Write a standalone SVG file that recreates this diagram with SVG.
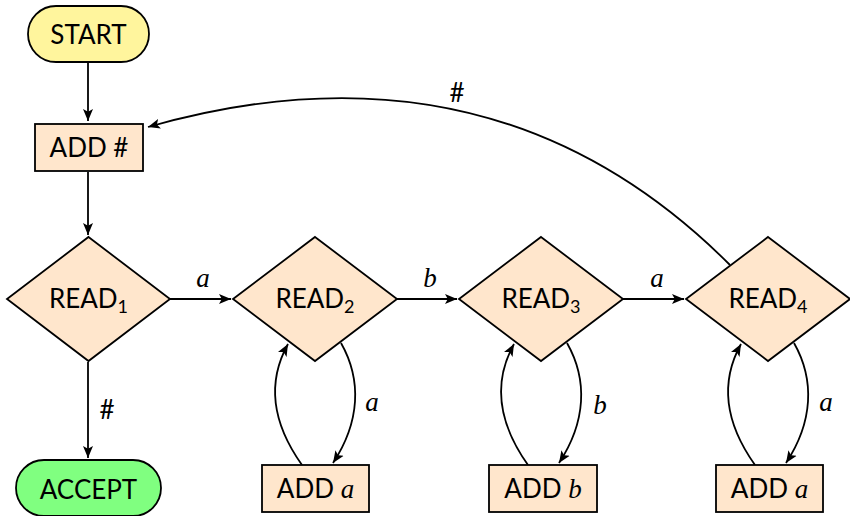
<svg xmlns="http://www.w3.org/2000/svg" width="850" height="516" viewBox="0 0 850 516">
<defs>
<style>
.n{stroke:#000;stroke-width:1.8}
.p{fill:#ffe6cc}
.t{font-family:Lato,"Open Sans",sans-serif;font-size:26px;fill:#000;text-anchor:middle}
.v{font-family:"Liberation Serif",serif;font-style:italic;font-size:27px}
.s{font-size:18px}
.c{fill:none;stroke:#000;stroke-width:1.8}
</style>
<marker id="ah" markerWidth="13" markerHeight="11" refX="12" refY="5.5" orient="auto" markerUnits="userSpaceOnUse">
<path d="M0,0.5 L12,5.5 L0,10.5 L2.8,5.5 Z" fill="#000"/>
</marker>
</defs>
<g id="connectors">
<path class="c" d="M88,62 L88,121" marker-end="url(#ah)"/>
<path class="c" d="M88,172 L88,235" marker-end="url(#ah)"/>
<path class="c" d="M88,362 L88,458" marker-end="url(#ah)"/>
<text class="t" x="107" y="419">#</text>
<path class="c" d="M170,299 L231,299" marker-end="url(#ah)"/>
<text class="t v" x="203" y="287">a</text>
<path class="c" d="M397,299 L457,299" marker-end="url(#ah)"/>
<text class="t v" x="430" y="287">b</text>
<path class="c" d="M623,299 L684,299" marker-end="url(#ah)"/>
<text class="t v" x="657" y="287">a</text>
<path class="c" d="M730,265 C580,115 390,58 148,127" marker-end="url(#ah)"/>
<text class="t" x="457" y="102">#</text>
<path class="c" d="M302,465 C270,420 268,380 288,344" marker-end="url(#ah)"/>
<path class="c" d="M341,343 C362,380 360,422 333,463" marker-end="url(#ah)"/>
<text class="t v" x="372" y="411">a</text>
<path class="c" d="M528,465 C496,420 494,380 514,344" marker-end="url(#ah)"/>
<path class="c" d="M567,343 C588,380 586,422 559,463" marker-end="url(#ah)"/>
<text class="t v" x="600" y="414">b</text>
<path class="c" d="M755,465 C723,420 721,380 741,344" marker-end="url(#ah)"/>
<path class="c" d="M794,343 C815,380 813,422 786,463" marker-end="url(#ah)"/>
<text class="t v" x="826" y="411">a</text>
</g>
<g id="start">
<rect class="n" x="28" y="6" width="121" height="56" rx="28" fill="#fff59d"/>
<text class="t" x="88.5" y="43.5">START</text>
</g>
<g id="addhash">
<rect class="n p" x="35" y="124" width="108" height="47"/>
<text class="t" x="89" y="157">ADD #</text>
</g>
<g id="read1">
<polygon class="n p" points="88.5,237 170,299 88.5,361 7,299"/>
<text class="t" x="88.5" y="308">READ<tspan class="s" dy="5">1</tspan></text>
</g>
<g id="read2">
<polygon class="n p" points="315,237 397,299 315,361 233,299"/>
<text class="t" x="315" y="308">READ<tspan class="s" dy="5">2</tspan></text>
</g>
<g id="read3">
<polygon class="n p" points="541,237 623,299 541,361 459,299"/>
<text class="t" x="541" y="308">READ<tspan class="s" dy="5">3</tspan></text>
</g>
<g id="read4">
<polygon class="n p" points="768,237 850,299 768,361 686,299"/>
<text class="t" x="768" y="308">READ<tspan class="s" dy="5">4</tspan></text>
</g>
<g id="accept">
<rect class="n" x="16" y="460" width="145" height="56" rx="28" fill="#80ff80"/>
<text class="t" x="88.5" y="499">ACCEPT</text>
</g>
<g id="adda1">
<rect class="n p" x="262" y="465" width="107" height="47"/>
<text class="t" x="315.5" y="498">ADD <tspan class="v">a</tspan></text>
</g>
<g id="addb">
<rect class="n p" x="489" y="465" width="108" height="47"/>
<text class="t" x="543" y="498">ADD <tspan class="v">b</tspan></text>
</g>
<g id="adda2">
<rect class="n p" x="716" y="465" width="107" height="47"/>
<text class="t" x="769.5" y="498">ADD <tspan class="v">a</tspan></text>
</g>
</svg>
